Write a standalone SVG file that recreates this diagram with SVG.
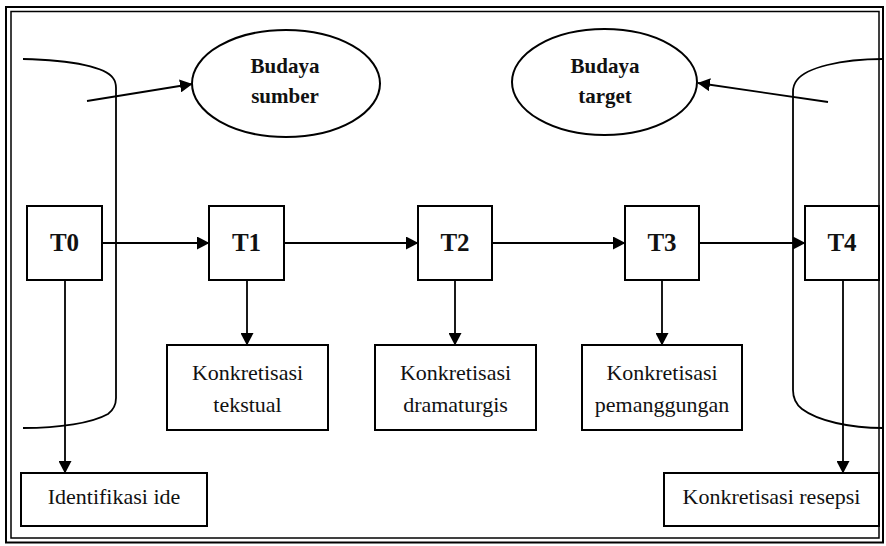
<svg xmlns="http://www.w3.org/2000/svg" width="886" height="546" viewBox="0 0 886 546">
<defs>
<marker id="ah" markerWidth="13" markerHeight="13" refX="12" refY="6.5" orient="auto" markerUnits="userSpaceOnUse">
<path d="M0,0 L12.5,6.5 L0,13 z" fill="#000"/>
</marker>
<style>
.box{fill:#fff;stroke:#000;stroke-width:2}
.ln{fill:none;stroke:#000;stroke-width:1.8}
.arr{fill:none;stroke:#000;stroke-width:1.8;marker-end:url(#ah)}
.t{font-family:"Liberation Serif","Times New Roman",serif;font-size:22px;fill:#111;text-anchor:middle}
.tb{font-family:"Liberation Serif","Times New Roman",serif;font-size:25px;font-weight:bold;fill:#111;text-anchor:middle}
.eb{font-family:"Liberation Serif","Times New Roman",serif;font-size:21px;font-weight:bold;fill:#111;text-anchor:middle}
</style>
</defs>
<rect width="886" height="546" fill="#fff"/>
<g id="frame" fill="none" stroke="#000">
<rect x="6" y="7" width="877" height="535.5" stroke-width="2"/>
<rect x="11" y="11.5" width="868" height="526.5" stroke-width="1.5"/>
</g>
<g id="cylinder-left">
<path class="ln" d="M23,59 C75,60 106,68 113,78 Q116,82 116,88 L116,398 Q116,408 108,414 C92,423 60,428 23,428"/>
</g>
<g id="cylinder-right">
<path class="ln" d="M883,59 C840,59 806,68 797,80 Q793,85 793,92 L793,390 Q793,402 802,409 C818,421 850,428 883,428"/>
</g>
<g id="budaya-sumber">
<ellipse class="box" cx="286" cy="83.5" rx="94" ry="53.5"/>
<text class="eb" x="285" y="73">Budaya</text>
<text class="eb" x="285" y="103">sumber</text>
</g>
<g id="budaya-target">
<ellipse class="box" cx="604.5" cy="82" rx="92.5" ry="53"/>
<text class="eb" x="605" y="73">Budaya</text>
<text class="eb" x="605" y="103">target</text>
</g>
<g id="connectors">
<line class="arr" x1="87" y1="101" x2="192" y2="84"/>
<line class="arr" x1="828" y1="102" x2="698" y2="83"/>
<line class="arr" x1="102" y1="243" x2="209" y2="243"/>
<line class="arr" x1="284" y1="243" x2="418" y2="243"/>
<line class="arr" x1="492" y1="243" x2="625" y2="243"/>
<line class="arr" x1="699" y1="243" x2="805" y2="243"/>
<line class="arr" x1="65" y1="280" x2="65" y2="473"/>
<line class="arr" x1="247" y1="280" x2="247" y2="345"/>
<line class="arr" x1="455" y1="280" x2="455" y2="345"/>
<line class="arr" x1="662" y1="280" x2="662" y2="345"/>
<line class="arr" x1="843" y1="280" x2="843" y2="473"/>
</g>
<g id="T0"><rect class="box" x="27" y="206" width="75" height="74"/><text class="tb" x="64.5" y="251">T0</text></g>
<g id="T1"><rect class="box" x="209" y="206" width="75" height="74"/><text class="tb" x="246.5" y="251">T1</text></g>
<g id="T2"><rect class="box" x="418" y="206" width="74" height="74"/><text class="tb" x="455" y="251">T2</text></g>
<g id="T3"><rect class="box" x="625" y="206" width="74" height="74"/><text class="tb" x="662" y="251">T3</text></g>
<g id="T4"><rect class="box" x="805" y="206" width="74" height="74"/><text class="tb" x="842" y="251">T4</text></g>
<g id="k-tekstual"><rect class="box" x="167" y="345" width="161" height="85"/><text class="t" x="247.5" y="380">Konkretisasi</text><text class="t" x="247.5" y="412">tekstual</text></g>
<g id="k-dramaturgis"><rect class="box" x="375" y="345" width="161" height="85"/><text class="t" x="455.5" y="380">Konkretisasi</text><text class="t" x="455.5" y="412">dramaturgis</text></g>
<g id="k-pemanggungan"><rect class="box" x="582" y="345" width="160" height="85"/><text class="t" x="662" y="380">Konkretisasi</text><text class="t" x="662" y="412">pemanggungan</text></g>
<g id="identifikasi"><rect class="box" x="21" y="473" width="186" height="53"/><text class="t" x="114" y="504">Identifikasi ide</text></g>
<g id="k-resepsi"><rect class="box" x="664" y="473" width="215" height="53"/><text class="t" x="771.5" y="504">Konkretisasi resepsi</text></g>
</svg>
